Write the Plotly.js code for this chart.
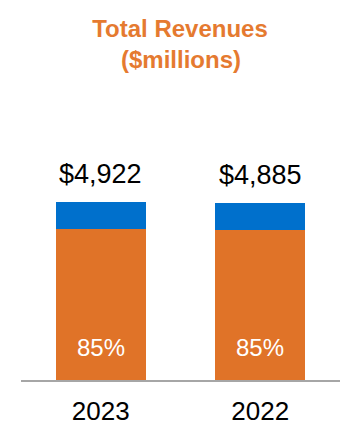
<!DOCTYPE html>
<html><head><meta charset="utf-8">
<script src="https://cdn.plot.ly/plotly-3.0.1.min.js"></script>
<style>html,body{margin:0;padding:0;background:#fff}#chart{width:360px;height:448px}</style>
</head><body><div id="chart"></div>
<script>
const years = ["2023", "2022"];
const totals = [4922, 4885];
const coreShare = [85, 85];
const coreValues = [4184, 4152];
const otherValues = [738, 733];
const totalLabels = ["$4,922", "$4,885"];

const FONT = "Liberation Sans, Arial, sans-serif";
const ORANGE = "#E07328";
const BLUE = "#0070CC";
const TITLE_COLOR = "#E57A30";

const traces = [
  {type: "bar", x: years, y: coreValues, marker: {color: ORANGE}, width: 0.565, hoverinfo: "skip"},
  {type: "bar", x: years, y: otherValues, marker: {color: BLUE}, width: 0.565, hoverinfo: "skip"}
];

const annotations = [];
years.forEach((yr, i) => {
  annotations.push({x: i, y: totals[i], xref: "x", yref: "y", text: totalLabels[i], showarrow: false,
    yanchor: "middle", yshift: 28, font: {family: FONT, size: 27, color: "#000"}});
  annotations.push({x: i, y: 0, xref: "x", yref: "y", text: coreShare[i] + "%", showarrow: false,
    yanchor: "middle", yshift: 33, font: {family: FONT, size: 24, color: "#fff"}});
});
annotations.push({x: 0.5, y: (380 - 59) / 280, xref: "paper", yref: "paper", text: "<b>($millions)</b>",
  showarrow: false, xanchor: "center", yanchor: "middle", font: {family: FONT, size: 24, color: TITLE_COLOR}});

const layout = {
  width: 360, height: 448,
  margin: {l: 21, r: 20, t: 100, b: 68},
  paper_bgcolor: "#fff", plot_bgcolor: "#fff",
  barmode: "stack", showlegend: false,
  title: {text: "<b>Total Revenues</b>", x: 0.5, xanchor: "center",
    y: 1 - 29 / 448, yanchor: "middle", font: {family: FONT, size: 24, color: TITLE_COLOR}},
  xaxis: {type: "category", range: [-0.5, 1.5], showline: true, linecolor: "#A6A6A6", linewidth: 2,
    ticks: "", ticklabelstandoff: 7, tickfont: {family: FONT, size: 26, color: "#000"},
    showgrid: false, zeroline: false, fixedrange: true},
  yaxis: {range: [0, 7743], visible: false, showgrid: false, zeroline: false, fixedrange: true},
  annotations: annotations
};

Plotly.newPlot("chart", traces, layout, {staticPlot: true});
</script></body></html>
